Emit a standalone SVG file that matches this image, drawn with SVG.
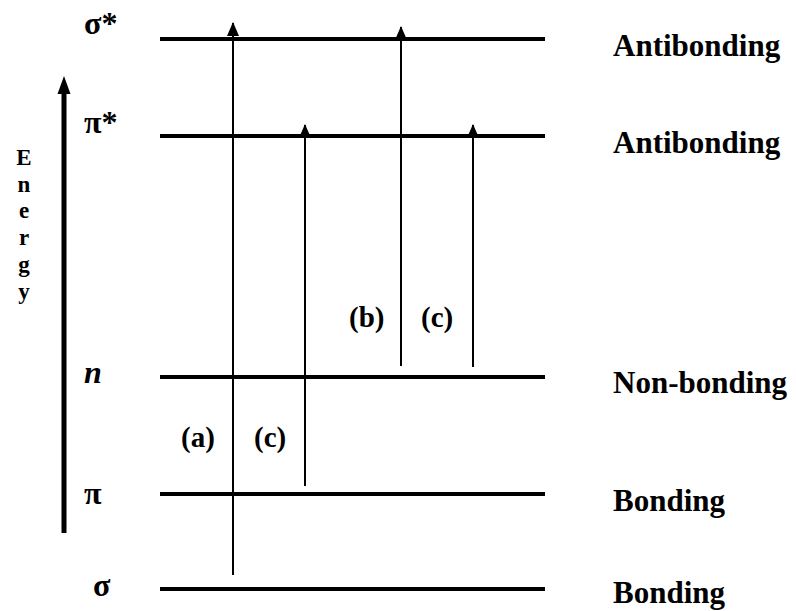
<svg xmlns="http://www.w3.org/2000/svg" width="796" height="611" viewBox="0 0 796 611">
  <style>
    .lvl { stroke: #000; stroke-width: 4; }
    .tr { stroke: #000; stroke-width: 2; fill: none; marker-end: url(#head); }
    .t { font-family: "Liberation Serif", "Times New Roman", serif; font-weight: bold; fill: #000; }
    .side { font-size: 31px; }
    .sym { font-size: 32px; }
    .lab { font-size: 29px; }
    .axis { font-size: 23px; text-anchor: middle; }
  </style>
  <defs>
    <marker id="head" markerUnits="userSpaceOnUse" markerWidth="14" markerHeight="12" refX="13" refY="6" orient="auto">
      <path d="M0,0 L14,6 L0,12 z" fill="#000"/>
    </marker>
  </defs>
  <rect width="796" height="611" fill="#fff"/>

  <!-- energy axis, label stacked one letter per line -->
  <g id="energy-axis">
    <line x1="64" y1="533" x2="64" y2="90" stroke="#000" stroke-width="5"/>
    <polygon points="64,76 57.5,94 70.5,94" fill="#000"/>
    <text class="t axis" x="24" y="165">E</text>
    <text class="t axis" x="24" y="191.7">n</text>
    <text class="t axis" x="24" y="218.4">e</text>
    <text class="t axis" x="24" y="245.1">r</text>
    <text class="t axis" x="24" y="271.8">g</text>
    <text class="t axis" x="24" y="298.5">y</text>
  </g>

  <!-- orbital levels -->
  <g id="level-sigma-star">
    <line class="lvl" x1="160" y1="39" x2="545" y2="39"/>
    <text class="t sym" x="84" y="34">σ*</text>
    <text class="t side" x="613" y="56">Antibonding</text>
  </g>
  <g id="level-pi-star">
    <line class="lvl" x1="160" y1="136" x2="545" y2="136"/>
    <text class="t sym" x="84" y="133">π*</text>
    <text class="t side" x="613" y="153">Antibonding</text>
  </g>
  <g id="level-n">
    <line class="lvl" x1="160" y1="377" x2="545" y2="377"/>
    <text class="t sym" x="84" y="383" font-style="italic" font-size="30">n</text>
    <text class="t side" x="613" y="393">Non-bonding</text>
  </g>
  <g id="level-pi">
    <line class="lvl" x1="160" y1="494" x2="545" y2="494"/>
    <text class="t sym" x="84" y="504">π</text>
    <text class="t side" x="613" y="511">Bonding</text>
  </g>
  <g id="level-sigma">
    <line class="lvl" x1="160" y1="589" x2="545" y2="589"/>
    <text class="t sym" x="93" y="596">σ</text>
    <text class="t side" x="613" y="603">Bonding</text>
  </g>

  <!-- transitions -->
  <g id="transitions">
    <line class="tr" x1="233" y1="575" x2="233" y2="23"/>
    <line class="tr" x1="305" y1="486" x2="305" y2="125"/>
    <line class="tr" x1="401" y1="366" x2="401" y2="27"/>
    <line class="tr" x1="473" y1="367" x2="473" y2="125"/>
  </g>

  <!-- transition labels -->
  <g id="transition-labels">
    <text class="t lab" x="181" y="447">(a)</text>
    <text class="t lab" x="254" y="447">(c)</text>
    <text class="t lab" x="349" y="327">(b)</text>
    <text class="t lab" x="421" y="327">(c)</text>
  </g>
</svg>
